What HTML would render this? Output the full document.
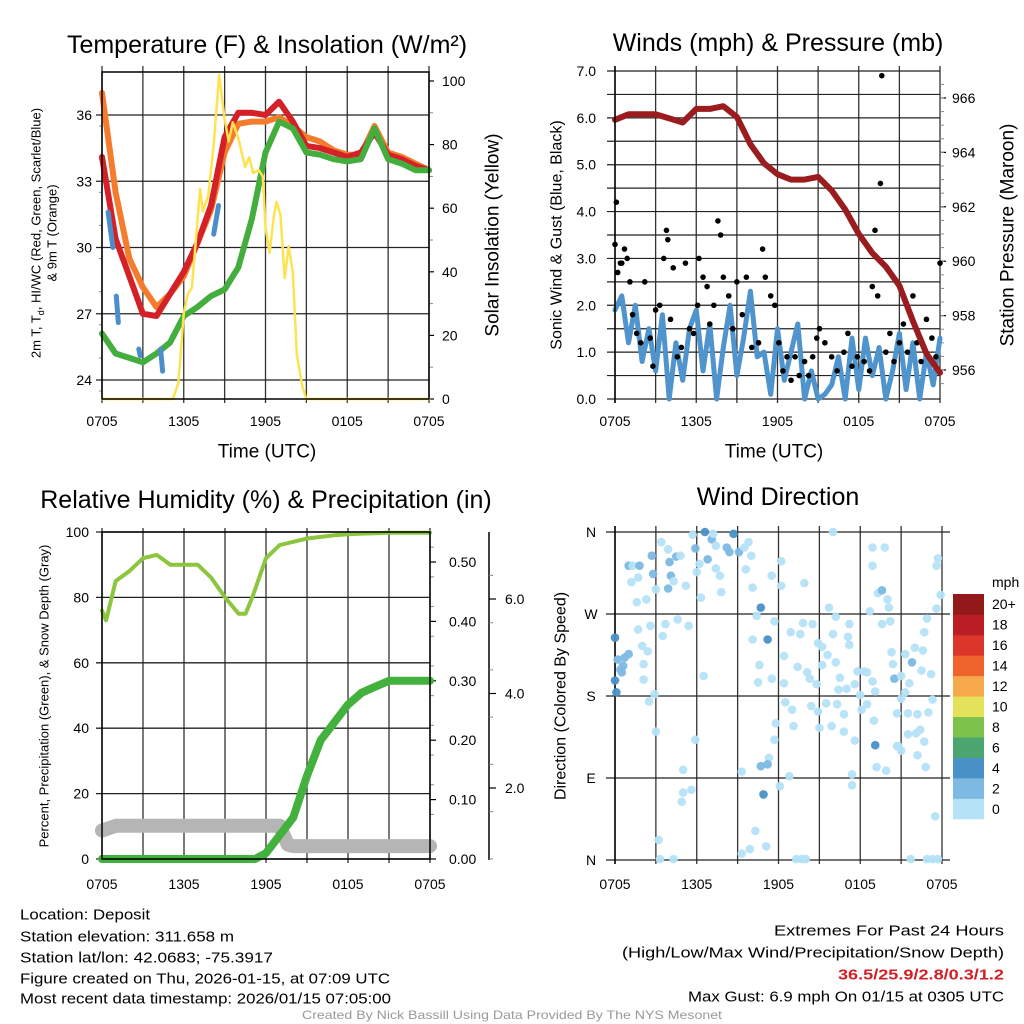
<!DOCTYPE html>
<html><head><meta charset="utf-8"><style>
html,body{margin:0;padding:0;background:#fff}
svg{display:block;font-family:"Liberation Sans",sans-serif}
</style></head><body>
<svg id="c" width="1024" height="1024" viewBox="0 0 1024 1024" xmlns="http://www.w3.org/2000/svg"></svg>
<script>
// ---------- DATA ----------
const hours=[0,1,2,3,4,5,6,7,8,9,10,11,12,13,14,15,16,17,18,19,20,21,22,23,24];
const tempRed=[34.1,30.4,28.7,27.0,26.9,27.9,28.9,30.2,31.9,35.0,36.1,36.1,36.0,36.6,35.7,34.6,34.5,34.3,34.1,34.3,35.2,34.2,34.0,33.7,33.5];
const tempOrange=[37.0,32.5,29.5,28.2,27.3,27.9,28.7,30.2,31.7,34.3,35.6,35.7,35.7,35.9,35.5,35.0,34.8,34.4,34.2,34.2,35.5,34.3,34.1,33.8,33.5];
const tempGreen=[26.1,25.2,25.0,24.8,25.2,25.7,26.9,27.3,27.8,28.1,29.1,31.3,34.3,35.7,35.4,34.3,34.2,34.0,33.9,34.0,35.4,34.0,33.8,33.5,33.5];
const blueTimes=[[0.45,0.8],[1.05,1.2],[2.7,2.8],[4.3,4.45],[8.2,8.55]];
const blueVals=[[31.6,30.0],[27.8,26.6],[25.4,25.1],[25.4,24.4],[30.6,31.9]];
const solarTimes=[0,5.2,5.6,6,6.3,6.6,7.2,7.4,7.8,8.2,8.6,9,9.3,9.6,10,10.5,10.8,11.1,11.5,11.8,12,12.3,12.6,12.8,13.1,13.4,13.7,14,14.3,14.7,15,24];
const solarVals=[0,0,5,27,33,35,66,59,64,80,102,88,81,87,82,73,76,71,72,70,54,46,57,62,58,38,48,40,14,4,0,0];
const tempTicks=[24,27,30,33,36];
const solarTicks=[0,20,40,60,80,100];
const timeLabels=["0705","1305","1905","0105","0705"];
const windVals=[1.9,2.2,1.2,2.0,0.8,1.5,0.6,1.8,0.0,1.2,0.4,1.5,1.9,0.6,1.6,0.0,1.1,2.0,0.5,1.3,2.3,0.9,1.0,0.1,1.5,0.4,1.0,1.6,0.0,0.6,0.0,0.1,0.3,0.9,0.0,1.3,0.2,1.3,0.5,1.1,0.0,0.6,1.4,0.2,1.2,0.0,1.0,0.3,1.3];
const gustTimes=[0,0.1,0.2,0.4,0.5,0.7,0.9,1.1,1.3,1.6,1.9,2.2,2.6,2.8,3.0,3.3,3.6,3.8,3.9,4.1,4.3,4.6,4.9,5.2,5.5,5.8,6.1,6.2,6.5,6.8,7.0,7.3,7.6,7.8,8.0,8.4,8.7,9.0,9.4,9.7,10.1,10.6,10.9,11.1,11.5,11.8,12.1,12.4,12.7,13.0,13.3,13.6,14.0,14.3,14.6,14.9,15.1,15.5,16.0,16.4,16.9,17.2,17.5,17.9,18.4,18.8,19.0,19.2,19.4,19.6,19.7,20.0,20.3,20.6,21.0,21.3,21.6,22.0,22.3,22.6,23.0,23.4,23.7,24];
const gustVals=[3.3,4.2,2.7,2.9,2.9,3.2,3.0,2.5,1.8,1.4,1.2,2.5,1.3,0.7,1.9,2.0,3.0,3.6,3.4,1.7,2.8,0.9,1.1,2.9,1.5,1.4,2.0,3.0,2.6,2.4,1.6,2.0,3.8,3.5,2.6,2.2,1.5,2.5,1.8,2.6,1.1,1.2,3.2,2.6,2.2,2.0,1.2,0.6,0.9,0.4,0.9,0.5,0.8,0.5,0.9,1.3,1.5,1.2,0.9,0.6,1.0,1.4,0.7,0.9,0.8,0.6,2.4,3.6,2.2,4.6,6.9,1.0,1.4,0.8,1.2,1.6,1.0,2.2,1.2,0.8,1.7,1.3,0.9,2.9];
const pressVals=[965.2,965.4,965.4,965.4,965.25,965.1,965.6,965.6,965.7,965.3,964.3,963.6,963.2,963.0,963.0,963.1,962.6,961.9,961.0,960.3,959.8,959.1,957.8,956.6,955.9];
const windTicks=[0,1,2,3,4,5,6,7];
const pressTicks=[956,958,960,962,964,966];
const rhTimes=[0,0.3,1,2,3,4,5,6,7,8,9,10,10.5,11,12,13,14,15,16,17,18,19,20,21,22,23,24];
const rhVals=[76,73,85,88,92,93,90,90,90,86,80,75,75,80,92,96,97,98,98.5,99,99.3,99.5,99.6,99.8,99.8,99.8,99.8];
const precipTimes=[0,11.2,12,13,14,15,16,17,18,19,20,21,22,23,24];
const precipVals=[0,0,0.01,0.04,0.07,0.14,0.20,0.23,0.26,0.28,0.29,0.30,0.30,0.30,0.30];
const snowTimes=[0,0.5,1,13,13.6,14,24];
const snowVals=[1.1,1.15,1.2,1.2,0.8,0.77,0.77];
const rhTicks=[0,20,40,60,80,100];
const precipTicks=[0,0.1,0.2,0.3,0.4,0.5];
const snowTicks=[2,4,6];
const dirTimes=[0,0.1,0,0.2,0.5,0.7,1.0,0.4,0.6,1.0,1.3,1.8,2.7,2.8,3.4,3.9,4.5,4.0,4.1,3.9,3.0,2.3,1.6,1.2,1.7,4.3,4.8,5.2,5.4,4.6,3.7,3.5,2.6,1.7,2.0,2.4,2.1,2.1,2.9,2.5,3.0,3.2,3.3,4.3,5.0,5.0,5.6,4.9,5.7,5.9,6.2,6.0,6.3,6.5,5.9,6.6,7.1,6.8,7.2,7.4,7.4,7.7,7.8,8.2,8.4,8.7,9.1,9.5,9.8,10.0,9.6,10.1,10.7,10.4,11.5,11.2,10.1,10.6,10.5,11.5,11.7,11.8,11.7,11.3,11.2,10.7,10.9,9.3,10.3,9.9,9.3,11.1,12.2,12.2,12.1,12.8,12.4,12.9,13.6,13.8,13.4,12.4,12.5,13.0,13.1,13.9,14.5,14.9,14.1,14.3,14.8,14.4,14.9,15.0,15.9,15.5,15.6,15.2,15.2,15.7,16.2,16.0,16.2,16.5,16.4,17.0,16.3,16.8,17.2,17.1,17.2,16.8,17.6,17.6,17.4,17.4,17.8,18.3,18.5,18.0,18.1,18.5,18.9,19.1,18.9,18.9,19.8,18.7,19.3,19.6,20.0,20.1,20.2,19.6,20.3,20.4,20.5,20.7,20.7,21.0,21.0,21.0,21.3,21.3,21.6,22.0,21.8,22.6,22.7,22.5,23.2,22.9,23.3,23.0,22.4,22.2,22.1,22.7,22.2,22.8,23.5,21.7,22.9,23.3,23.7,23.6,23.7,23.9,23.6,16.0,13.3,13.7,14.0,21.5,21.5,20.8,19.2,19.9,19.1,19.0];
const dirDegs=[244,184,197,220,206,222,226,209,213,323,323,323,334,314,349,341,333,327,312,298,297,286,283,305,310,306,334,301,257,264,259,246,257,253,235,229,215,198,182,174,141,22,1,1,99,74,77,64,357,342,325,316,288,202,132,360,352,330,358,345,320,312,294,343,338,358,338,343,349,334,319,299,277,268,312,242,242,214,195,199,262,150,132,112,105,103,72,97,32,12,7,15,328,301,81,92,224,250,248,260,212,194,173,165,147,304,259,238,206,199,193,169,163,145,147,172,225,234,214,277,267,248,217,200,187,188,171,160,259,245,236,141,193,131,94,82,207,207,206,181,165,171,196,185,323,343,343,273,293,296,286,277,262,259,228,215,199,161,125,120,177,202,226,184,194,233,217,230,250,208,204,265,176,162,143,160,139,130,115,102,48,1,1,1,1,323,331,291,276,360,1,1,1,161,138,125,102,98,126,153];
const dirSpeeds=[5,5,5,3,3,3,3,3,3,3,1,3,3,3,1,1,3,3,3,3,1,1,1,1,1,1,1,1,1,1,1,1,1,1,1,1,1,1,1,1,1,1,1,1,1,1,1,1,1,3,1,1,1,1,1,5,3,3,1,1,1,1,1,3,3,5,3,1,1,1,1,1,5,1,1,5,1,1,1,1,1,1,1,1,3,3,5,1,1,1,1,1,1,1,1,1,1,1,1,1,1,1,1,1,1,1,1,1,1,1,1,1,1,1,1,1,1,1,1,1,1,1,1,1,1,1,1,1,1,1,1,1,1,1,1,1,1,1,1,1,1,1,1,1,1,1,1,1,1,3,1,1,1,1,1,1,3,1,1,1,1,1,1,1,1,1,3,1,1,1,1,1,1,1,1,1,1,1,1,1,1,1,1,1,1,1,1,1,1,1,1,1,1,1,1,1,1,1,5,1,1];
const dirTicks=[0,90,180,270,360];
const dirTickLabels=["N","E","S","W","N"];
const cbLabels=["0","2","4","6","8","10","12","14","16","18","20+"];
const cbColors=["#b5e2f7","#7db9e3","#4a91c7","#4aa56e","#7cc24b","#e4e15a","#f5a94a","#ef642d","#dc362a","#bb1d24","#931819"];

// ---------- HELPERS ----------
const NS="http://www.w3.org/2000/svg";
const svg=document.getElementById('c');
function mk(tag,attrs,name,parent){
  const el=document.createElementNS(NS,tag);
  for(const k in attrs) el.setAttribute(k,attrs[k]);
  
  
  (parent||svg).appendChild(el);return el;
}
function txt(x,y,s,size,name,opts){
  opts=opts||{};
  const a={x:x,y:y,'font-size':size,fill:opts.fill||'#000','text-anchor':opts.anchor||'middle','dominant-baseline':'central'};
  if(opts.rot){a.transform='rotate('+opts.rot+' '+x+' '+y+')';}
  if(opts.len){a.textLength=opts.len;a.lengthAdjust='spacingAndGlyphs';}
  if(opts.weight){a['font-weight']=opts.weight;}
  const t=mk('text',a,name);t.textContent=s;return t;
}
function poly(xs,ys,stroke,w,name,cap){
  let d='';for(let i=0;i<xs.length;i++)d+=(i?'L':'M')+xs[i].toFixed(1)+' '+ys[i].toFixed(1);
  return mk('path',{d:d,fill:'none',stroke:stroke,'stroke-width':w,'stroke-linejoin':'round','stroke-linecap':cap||'round'},name);
}
function ln(x1,y1,x2,y2,st,w,name){return mk('line',{x1:x1,y1:y1,x2:x2,y2:y2,stroke:st,'stroke-width':w},name);}
function lin(d0,d1,r0,r1){return v=>r0+(v-d0)*(r1-r0)/(d1-d0);}

// ---------- PANEL 1 ----------
{
const X=lin(0,24,102,429), Y=lin(24,36,380,115), S=lin(0,100,399,81);
for(let h=0;h<=24;h+=3) ln(X(h),66,X(h),403,'#333',1.3,'p1-vgrid');
tempTicks.forEach(t=>{ln(96,Y(t),429,Y(t),'#222',1.3,'p1-hgrid');txt(92,Y(t),String(t),14,'p1-temp-tick',{anchor:'end'});});
for(let t=23.5;t<38;t+=1.5) ln(99,Y(t),102,Y(t),'#888',1,'p1-minor-tick');
solarTicks.forEach(v=>{ln(429,S(v),434,S(v),'#000',1.2,'p1-solar-tickmark');txt(442,S(v),String(v),14,'p1-solar-tick',{anchor:'start'});});
for(let v=10;v<104;v+=20) ln(429,S(v),433,S(v),'#888',1,'p1-solar-minor');
poly(hours.map(X),tempOrange.map(Y),'#f47c2c',6,'series-9m-temp');
poly(hours.map(X),tempRed.map(Y),'#d42027',6,'series-2m-temp');
poly(hours.map(X),tempGreen.map(Y),'#43ad3e',6,'series-dewpoint');
blueTimes.forEach((s,i)=>poly(s.map(X),blueVals[i].map(Y),'#4a8fcb',5,'series-windchill'));
poly(solarTimes.map(X),solarVals.map(S),'#fde34f',2.5,'series-solar');
mk('rect',{x:102,y:72,width:327,height:327,fill:'none',stroke:'#000','stroke-width':1.5},'p1-frame');
timeLabels.forEach((l,i)=>txt(X(i*6),421,l,14,'p1-time-tick'));
txt(267,45,'Temperature (F) & Insolation (W/m²)',25,'p1-title');
txt(267,452,'Time (UTC)',19,'p1-x-title');
const yl=txt(36,233,'',13,'p1-y-title',{rot:-90});
yl.innerHTML='2m T, T<tspan baseline-shift="sub" font-size="9">d</tspan>, HI/WC (Red, Green, Scarlet/Blue)';
txt(52,233,'& 9m T (Orange)',13,'p1-y-title-2',{rot:-90});
txt(493,235,'Solar Insolation (Yellow)',19,'p1-y2-title',{rot:-90});
}
// ---------- PANEL 2 ----------
{
const X=lin(0,24,615,940), Y=lin(0,7,399,71), P=lin(956,966,370,98);
for(let h=0;h<=24;h+=3) ln(X(h),66,X(h),403,'#333',1.3,'p2-vgrid');
for(let w=0;w<=7;w+=0.5) ln(607,Y(w),940,Y(w),'#222',1.2,'p2-hgrid');
windTicks.forEach(w=>txt(596,Y(w),w.toFixed(1),14,'p2-wind-tick',{anchor:'end'}));
pressTicks.forEach(p=>{ln(940,P(p),946,P(p),'#000',1.2,'p2-press-tickmark');txt(952,P(p),String(p),14,'p2-press-tick',{anchor:'start'});});
for(let p=955.5;p<967;p+=0.5) ln(940,P(p),944,P(p),'#888',1,'p2-press-minor');
const wt=windVals.map((v,i)=>i*0.5);
poly(wt.map(X),windVals.map(Y),'#4f94cd',5,'series-sonic-wind');
gustTimes.forEach((t,i)=>{mk('circle',{cx:X(t),cy:Y(gustVals[i]),r:2.8,fill:'#000'},'gust-point');});
poly(hours.map(X),pressVals.map(P),'#9b1c1f',6,'series-pressure');
ln(615,66,615,403,'#000',1.5,'p2-left-axis');
timeLabels.forEach((l,i)=>txt(X(i*6),421,l,14,'p2-time-tick'));
txt(778,43,'Winds (mph) & Pressure (mb)',25,'p2-title');
txt(774,452,'Time (UTC)',19,'p2-x-title');
txt(557,235,'Sonic Wind & Gust (Blue, Black)',16,'p2-y-title',{rot:-90});
txt(1008,235,'Station Pressure (Maroon)',19,'p2-y2-title',{rot:-90});
}
// ---------- PANEL 3 ----------
{
const X=lin(0,24,102,430), Y=lin(0,100,859,532), PR=lin(0,0.5,859,562), SN=lin(2,6,788,599);
for(let h=0;h<=24;h+=3) ln(X(h),528,X(h),863,'#333',1.3,'p3-vgrid');
rhTicks.forEach(t=>{ln(96,Y(t),430,Y(t),'#222',1.3,'p3-hgrid');txt(89,Y(t),String(t),14,'p3-rh-tick',{anchor:'end'});});
precipTicks.forEach(p=>{ln(430,PR(p),436,PR(p),'#000',1.2,'p3-precip-tickmark');txt(449,PR(p),p.toFixed(2),14,'p3-precip-tick',{anchor:'start'});});
for(let p=0.025;p<0.55;p+=0.05) ln(430,PR(p),434,PR(p),'#888',1,'p3-precip-minor');
ln(489,532,489,860,'#000',1.5,'p3-snow-axis');
snowTicks.forEach(s=>{ln(489,SN(s),496,SN(s),'#000',1.2,'p3-snow-tickmark');txt(505,SN(s),s.toFixed(1),14,'p3-snow-tick',{anchor:'start'});});
for(let s=0.5;s<7;s+=1) ln(489,SN(s),493,SN(s),'#888',1,'p3-snow-minor');
poly(snowTimes.map(X),snowVals.map(SN),'#b5b5b5',14,'series-snow-depth');
poly(rhTimes.map(X),rhVals.map(Y),'#8cc63f',4,'series-rh');
poly(precipTimes.map(X),precipVals.map(PR),'#43b13e',8,'series-precip');
mk('rect',{x:102,y:532,width:328,height:327,fill:'none',stroke:'#000','stroke-width':1.5},'p3-frame');
timeLabels.forEach((l,i)=>txt(X(i*6),884,l,14,'p3-time-tick'));
txt(266,500,'Relative Humidity (%) & Precipitation (in)',25,'p3-title');
txt(44,696,'Percent, Precipitation (Green), & Snow Depth (Gray)',13,'p3-y-title',{rot:-90});
}
// ---------- PANEL 4 ----------
{
const X=lin(0,24,615,942), Y=lin(0,360,860,532);
for(let h=0;h<=24;h+=3) ln(X(h),526,X(h),864,'#333',1.3,'p4-vgrid');
dirTicks.forEach((d,i)=>{ln(606,Y(d),950,Y(d),'#222',1.3,'p4-hgrid');txt(591,Y(d),dirTickLabels[i],14,'p4-dir-tick');});
ln(615,526,615,864,'#000',1.5,'p4-left-axis');
dirTimes.forEach((t,i)=>{const b=Math.min(10,Math.floor(dirSpeeds[i]/2));mk('circle',{cx:X(t),cy:Y(dirDegs[i]),r:4.3,fill:cbColors[b],'fill-opacity':0.95},'direction-point');});
timeLabels.forEach((l,i)=>txt(X(i*6),884,l,14,'p4-time-tick'));
txt(778,497,'Wind Direction',25,'p4-title');
txt(561,696,'Direction (Colored By Speed)',16,'p4-y-title',{rot:-90});
const cbTop=594,cbH=225,n=cbColors.length,bh=cbH/n;
cbColors.forEach((c,i)=>{mk('rect',{x:953,y:cbTop+cbH-(i+1)*bh,width:31,height:bh+0.3,fill:c},'colorbar-swatch');txt(992,cbTop+cbH-(i+0.5)*bh,cbLabels[i],14,'colorbar-label',{anchor:'start'});});
txt(992,582,'mph',14,'colorbar-title',{anchor:'start'});
}
// ---------- FOOTER ----------
txt(20,915,'Location: Deposit',15,'location-text',{anchor:'start',len:130});
txt(20,937,'Station elevation: 311.658 m',15,'elevation-text',{anchor:'start',len:214});
txt(20,958,'Station lat/lon: 42.0683; -75.3917',15,'latlon-text',{anchor:'start',len:253});
txt(20,979,'Figure created on Thu, 2026-01-15, at 07:09 UTC',15,'created-text',{anchor:'start',len:370});
txt(20,999,'Most recent data timestamp: 2026/01/15 07:05:00',15,'timestamp-text',{anchor:'start',len:371});
txt(1004,931,'Extremes For Past 24 Hours',15,'extremes-title',{anchor:'end',len:230});
txt(1004,953,'(High/Low/Max Wind/Precipitation/Snow Depth)',15,'extremes-subtitle',{anchor:'end',len:382});
txt(1004,975,'36.5/25.9/2.8/0.3/1.2',15,'extremes-values',{anchor:'end',len:166,fill:'#d12027',weight:'bold'});
txt(1004,997,'Max Gust: 6.9 mph On 01/15 at 0305 UTC',15,'max-gust-text',{anchor:'end',len:316});
txt(512,1015,'Created By Nick Bassill Using Data Provided By The NYS Mesonet',12,'credits-text',{fill:'#999',len:420});
</script>
</body></html>
